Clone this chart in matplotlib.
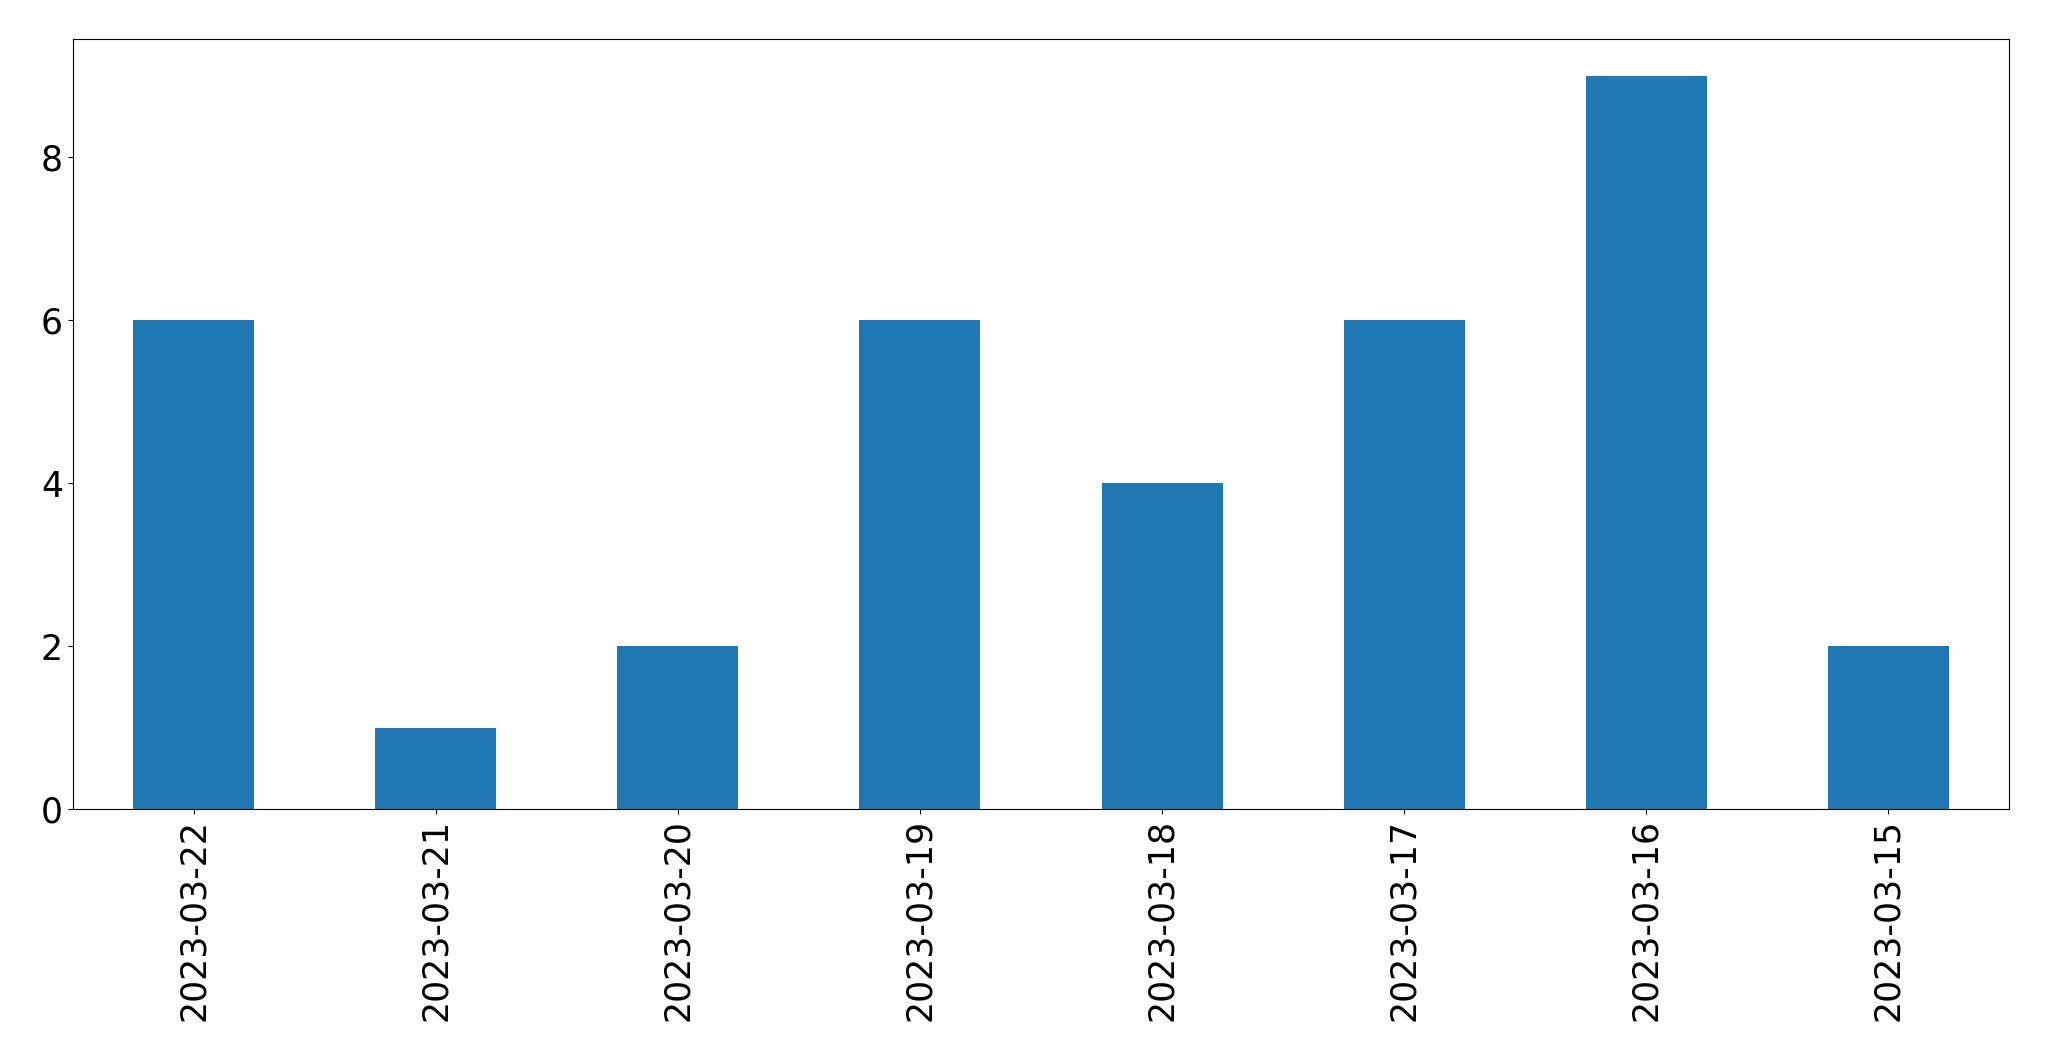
#!/usr/bin/env python3
"""Daily counts bar chart, written to out.png."""

import matplotlib
matplotlib.use("Agg")
import matplotlib.pyplot as plt
import pandas as pd

dates = ["2023-03-22", "2023-03-21", "2023-03-20", "2023-03-19",
         "2023-03-18", "2023-03-17", "2023-03-16", "2023-03-15"]
counts = [6, 1, 2, 6, 4, 6, 9, 2]

plt.rcParams.update({
    "font.family": "DejaVu Sans",
    "font.size": 25,
})

s = pd.Series(counts, index=dates)

fig = plt.figure(figsize=(20.49, 10.61), dpi=100)
ax = fig.add_axes([72.7 / 2049, 1 - 809.3 / 1061,
                   (2009.3 - 72.7) / 2049, (809.3 - 39.3) / 1061])
s.plot.bar(ax=ax, color="#1f77b4")
ax.tick_params(axis="both", labelsize=25)

fig.savefig("out.png", dpi=100, facecolor="white")
